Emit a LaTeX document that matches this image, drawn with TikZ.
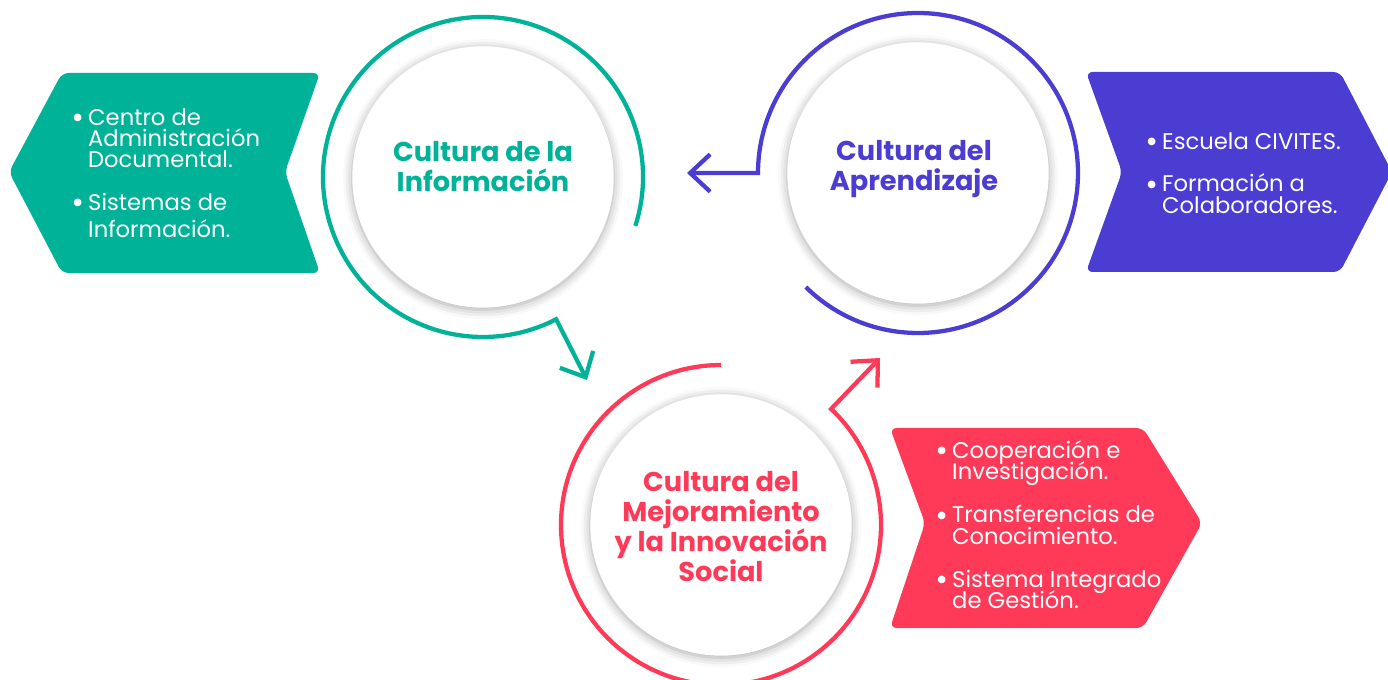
\documentclass[tikz,border=0pt]{standalone}
\usepackage{fontspec}
\setmainfont{Poppins}
\newfontfamily\dotfont{DejaVu Sans}
\usetikzlibrary{positioning, arrows.meta, shadows.blur}
\definecolor{infogreen}{HTML}{00B398}
\definecolor{learnpurple}{HTML}{4B3CD2}
\definecolor{innovred}{HTML}{FF3A58}
\newcommand{\bulletmark}{\makebox[11.2pt][l]{\raisebox{3.4pt}{\dotfont\fontsize{7.5pt}{0pt}\selectfont ●}}}
\newcommand{\bulletpad}{\hspace*{11.2pt}}
\newcommand{\tightlines}{\lineskiplimit=-100pt\relax}

\begin{document}
\begin{tikzpicture}[x=0.75pt, y=-0.75pt,
  disc/.style={circle, fill=white, minimum size=196pt, inner sep=0pt,
    blur shadow={shadow xshift=0pt, shadow yshift=-1.5pt, shadow blur radius=7pt, shadow opacity=35}},
  loopline/.style={line width=3.2pt, -{Straight Barb[length=15pt, width=28pt]}},
  ctitle/.style={font=\fontsize{20.4pt}{22.5pt}\selectfont\bfseries, align=center, inner sep=0pt},
  itemtext/.style={font=\fontsize{17pt}{16pt}\selectfont\tightlines, text=white,
    align=left, inner sep=0pt, anchor=north west},
  panel/.style={rounded corners=5pt}]

  \useasboundingbox (0,0) rectangle (1388,680);

  % side panels
  \fill[infogreen, panel] (62,73) -- (320,73) -- (285,172) -- (320,273) -- (62,273) -- (9,172) -- cycle;
  \fill[learnpurple, panel] (1086,72) -- (1340,72) -- (1392,172) -- (1340,272) -- (1086,272) -- (1122,172) -- cycle;
  \fill[innovred, panel] (890,428) -- (1143,428) -- (1202,523) -- (1143,628) -- (890,628) -- (925,523) -- cycle;

  % circles
  \node[disc] (info) at (483,177) {};
  \node[disc] (learn) at (918,173) {};
  \node[disc] (innov) at (721,525) {};

  \coordinate (infotip) at (587,380);
  \coordinate (learntip) at (687,173);
  \coordinate (innovtip) at (880,358);

  \draw[loopline, infogreen] ([shift={(17.8:160)}]info.center)
    arc[start angle=17.8, end angle=-297.2, radius=160] -- (infotip);
  \draw[loopline, learnpurple] ([shift={(134.5:160)}]learn.center)
    arc[start angle=134.5, end angle=-180, radius=160] -- (learntip);
  \draw[loopline, innovred] ([shift={(-90:160)}]innov.center)
    arc[start angle=-90, end angle=-406.5, radius=160] -- (innovtip);

  % titles
  \node[ctitle, text=infogreen] (infotitle) at (483,167) {Cultura de la\\Información};
  \node[ctitle, text=learnpurple] (learntitle) at (914,169) {Cultura del\\Aprendizaje};
  \node[ctitle, text=innovred] (innovtitle) at (721,527) {Cultura del\\Mejoramiento\\y la Innovación\\Social};

  % panel texts
  \node[itemtext] (infoitems) at (73,108)
    {\bulletmark Centro de\\\bulletpad Administración\\\bulletpad Documental.\\[16pt]\bulletmark Sistemas de\\[4pt]\bulletpad Información.};
  \node[itemtext] (learnitems) at (1147,132)
    {\bulletmark Escuela CIVITES.\\[16pt]\bulletmark Formación a\\\bulletpad Colaboradores.};
  \node[itemtext] (innovitems) at (937,440)
    {\bulletmark Cooperación e\\\bulletpad Investigación.\\[16.5pt]\bulletmark Transferencias de\\\bulletpad Conocimiento.\\[16.5pt]\bulletmark Sistema Integrado\\\bulletpad de Gestión.};
\end{tikzpicture}
\end{document}
